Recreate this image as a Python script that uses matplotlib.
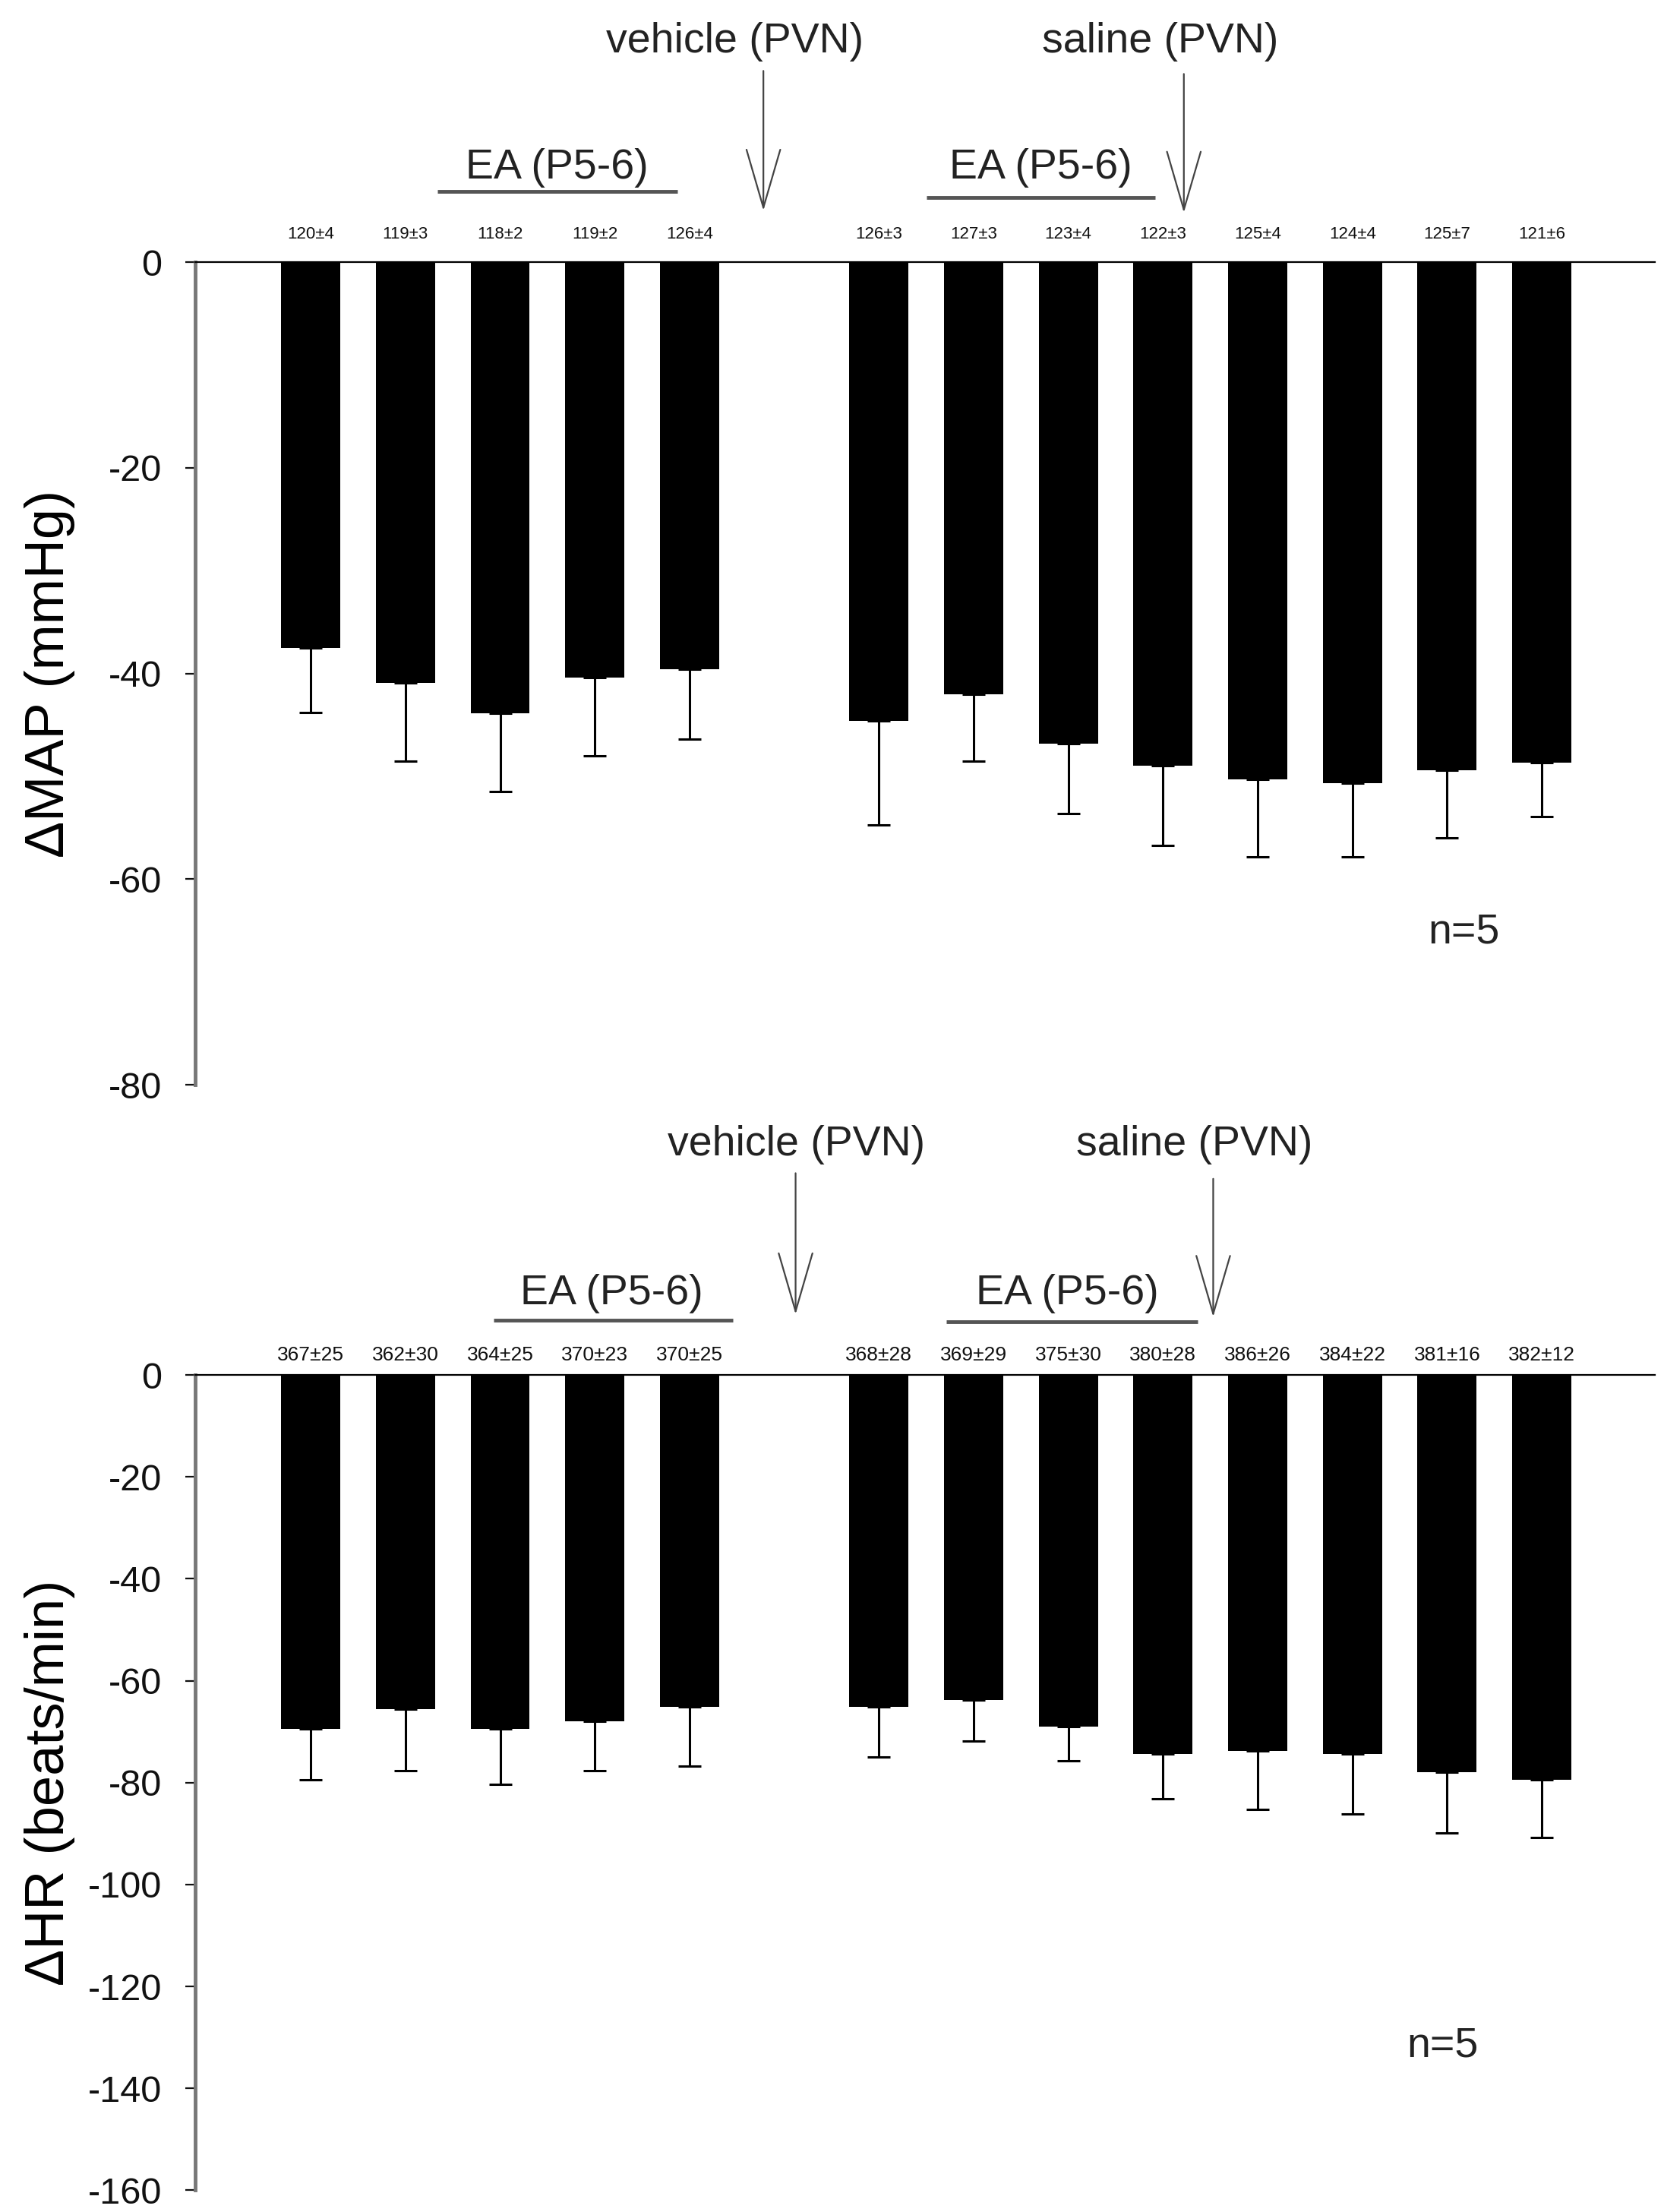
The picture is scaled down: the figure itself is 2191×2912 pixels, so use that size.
import numpy as np
import matplotlib
matplotlib.use("Agg")
import matplotlib.pyplot as plt

plt.rcParams['font.family'] = ['Liberation Sans', 'DejaVu Sans']
plt.rcParams['axes.unicode_minus'] = False

# slot 5 is the empty gap where vehicle is injected
pos = [0, 1, 2, 3, 4, 6, 7, 8, 9, 10, 11, 12, 13]

map_mean = [-37.5, -40.9, -43.9, -40.4, -39.6, -44.6, -42.0, -46.8, -49.0, -50.3, -50.7, -49.4, -48.7]
map_sem = [6.3, 7.6, 7.6, 7.6, 6.8, 10.1, 6.5, 6.8, 7.7, 7.5, 7.1, 6.6, 5.2]
map_base = ['120±4', '119±3', '118±2', '119±2', '126±4', '126±3', '127±3',
            '123±4', '122±3', '125±4', '124±4', '125±7', '121±6']

hr_mean = [-69.5, -65.6, -69.5, -67.9, -65.1, -65.1, -63.8, -69.0, -74.3, -73.8, -74.3, -78.0, -79.5]
hr_sem = [9.9, 12.0, 10.9, 9.7, 11.6, 9.8, 8.1, 6.7, 8.9, 11.5, 11.9, 11.9, 11.2]
hr_base = ['367±25', '362±30', '364±25', '370±23', '370±25', '368±28', '369±29',
           '375±30', '380±28', '386±26', '384±22', '381±16', '382±12']

fig = plt.figure(figsize=(21.91, 29.12), dpi=100)
ax1 = fig.add_axes([0.1173, 0.5096, 0.877, 0.3719])
ax2 = fig.add_axes([0.1173, 0.0098, 0.877, 0.3686])


def draw_panel(ax, mean, sem, base, ymin, ylabel, base_size, base_off, ann):
    ax.bar(pos, mean, width=0.625, color='black', zorder=2)
    ax.errorbar(pos, mean, yerr=[sem, np.zeros(len(sem))], fmt='none', ecolor='black',
                elinewidth=2.2, capsize=11, capthick=2.2, zorder=1)
    for x, t in zip(pos, base):
        ax.annotate(t, xy=(x, 0), xytext=(0, base_off), textcoords='offset points',
                    ha='center', va='center', fontsize=base_size, color='#111111',
                    annotation_clip=False)
    ax.set_xlim(-1.22, 14.19)
    ax.set_ylim(ymin, 0)
    ax.set_yticks(np.arange(ymin, 1, 20))
    ax.set_xticks([])
    for s in ['right', 'bottom']:
        ax.spines[s].set_visible(False)
    ax.spines['top'].set_linewidth(1.6)
    ax.spines['left'].set_linewidth(3.5)
    ax.spines['left'].set_color('#777777')
    ax.tick_params(axis='y', direction='out', length=9.5, width=1.6, pad=22,
                   labelsize=35, colors='#111111')
    ax.set_ylabel(ylabel, fontsize=52)
    ax.yaxis.set_label_coords(-0.082, 0.5)

    # annotations: (text, x, y) for labels, arrows and EA bars
    for t, x, y in ann['text']:
        ax.text(x, y, t, ha='center', va='center', fontsize=40, color='#222222', clip_on=False)
    for x, y0, y1 in ann['arrows']:
        ax.annotate('', xy=(x, y1), xytext=(x, y0), annotation_clip=False,
                    arrowprops=dict(arrowstyle='->,head_length=55,head_width=16', mutation_scale=1,
                                    lw=1.6, color='#444444', shrinkA=0, shrinkB=0))
    for x0, x1, y in ann['lines']:
        ax.plot([x0, x1], [y, y], color='#555555', lw=3.5, clip_on=False, solid_capstyle='butt')


ann1 = {
    'text': [('vehicle (PVN)', 4.48, 21.4), ('saline (PVN)', 8.97, 21.4),
             ('EA (P5-6)', 2.6, 9.2), ('EA (P5-6)', 7.71, 9.2), ('n=5', 12.18, -65.2)],
    'arrows': [(4.78, 18.6, 5.0), (9.22, 18.3, 4.8)],
    'lines': [(1.34, 3.87, 6.9), (6.50, 8.92, 6.3)],
}
ann2 = {
    'text': [('vehicle (PVN)', 5.13, 45.2), ('saline (PVN)', 9.33, 45.2),
             ('EA (P5-6)', 3.18, 15.9), ('EA (P5-6)', 7.99, 15.9), ('n=5', 11.95, -131.7)],
    'arrows': [(5.12, 39.6, 11.9), (9.53, 38.5, 11.4)],
    'lines': [(1.93, 4.46, 10.8), (6.71, 9.37, 10.5)],
}

draw_panel(ax1, map_mean, map_sem, map_base, -80, 'ΔMAP (mmHg)', 16, 26, ann1)
draw_panel(ax2, hr_mean, hr_sem, hr_base, -160, 'ΔHR (beats/min)', 19, 19, ann2)

fig.savefig('out.png', dpi=100, facecolor='white')
